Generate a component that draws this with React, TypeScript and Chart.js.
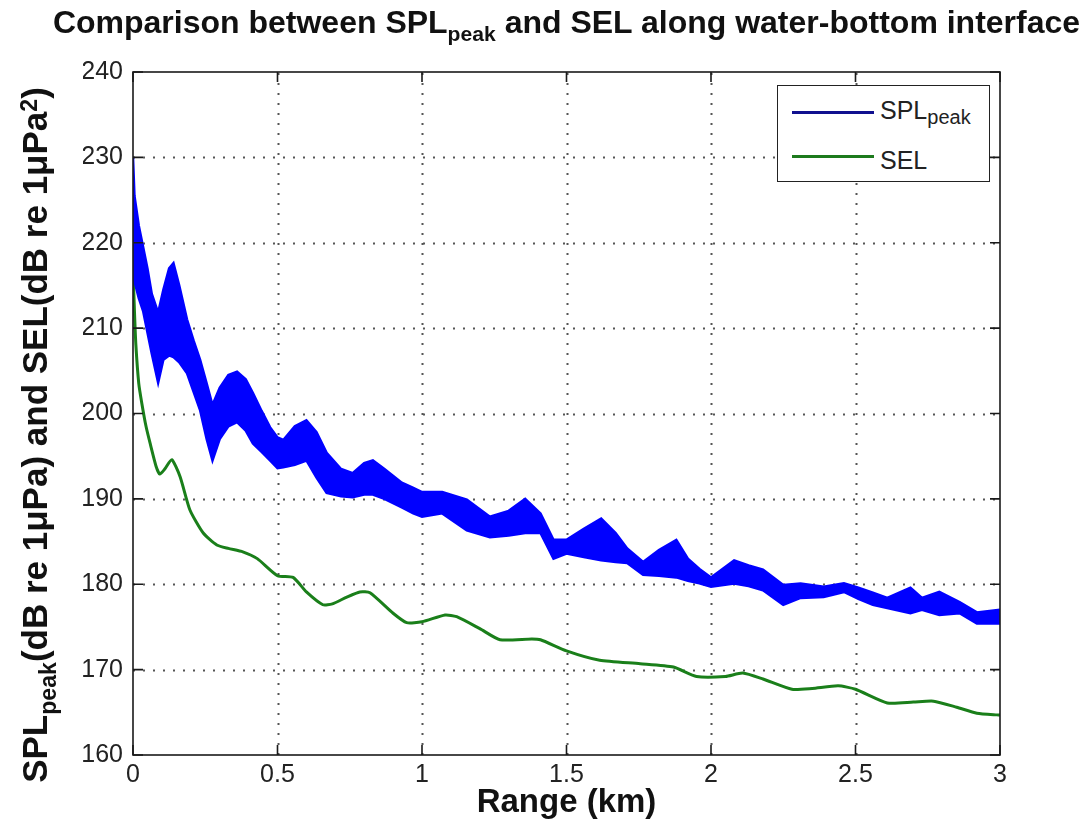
import React, { useEffect, useRef } from "react";
import { Chart, registerables } from "chart.js";

Chart.register(...registerables);

// SPL_peak band (rapidly oscillating signal shown as envelope)
const bandX = [
  0.0, 0.005, 0.02, 0.035, 0.05, 0.065, 0.087, 0.105, 0.125, 0.14, 0.16, 0.187, 0.21, 0.232, 0.255,
  0.275, 0.3, 0.33, 0.36, 0.39, 0.415, 0.445, 0.474, 0.5, 0.52, 0.56, 0.6, 0.635, 0.67, 0.72, 0.76,
  0.8, 0.83, 0.87, 0.93, 0.97, 1.0, 1.07, 1.155, 1.235, 1.3, 1.357, 1.41, 1.455, 1.5, 1.56, 1.62,
  1.67, 1.71, 1.765, 1.82, 1.88, 1.92, 1.96, 2.0, 2.08, 2.13, 2.18, 2.25, 2.31, 2.39, 2.46, 2.51,
  2.56, 2.61, 2.69, 2.73, 2.79, 2.86, 2.92, 3.0,
];
const bandUpper = [
  230, 225.5, 222, 219.5, 217, 214, 211.8, 214.5, 217, 217.6, 215, 211, 208.5, 206.3, 203.5,
  201, 203, 204.5, 204.9, 204, 202.4, 200.3, 198.4, 197.2, 196.9, 198.5, 199.2, 197.8, 195.4, 193.5, 193,
  194.2, 194.5, 193.5, 191.9, 191.3, 190.8, 190.8, 189.9, 187.9, 188.6, 190, 188.3, 185.2, 185.2, 186.5, 187.7,
  186, 184.2, 182.6, 184, 185.2, 183, 181.8, 180.8, 182.8, 182.2, 181.7, 179.9, 180.1, 179.7, 180.1, 179.6,
  179, 178.4, 179.6, 178.4, 179.1, 177.9, 176.7, 177,
];
const bandLower = [
  217, 215.5, 213.5, 212, 209.5, 207, 203.6, 206.3, 206.8, 206.6, 206, 204.7, 202.5, 200.4, 197,
  194.5, 197, 198.5, 199, 198, 196.5, 195.5, 194.5, 193.6, 193.7, 194, 194.5, 192.5, 190.7, 190.3, 190.2,
  190.5, 190.5, 190, 189, 188.3, 187.9, 188.3, 186.3, 185.5, 185.7, 186, 186, 183, 183.6, 183.2, 182.8,
  182.6, 182.5, 181.1, 181, 180.8, 180.4, 180.1, 179.7, 180.1, 179.8, 179.3, 177.6, 178.4, 178.5, 179.1, 178.3,
  177.6, 177.2, 176.6, 177, 176.4, 176.6, 175.4, 175.4,
];

// SEL curve
const selX = [
  0.0, 0.005, 0.01, 0.02, 0.03, 0.045, 0.06, 0.08, 0.093, 0.11, 0.134, 0.163, 0.197, 0.243, 0.29,
  0.33, 0.38, 0.43, 0.5, 0.554, 0.6, 0.657, 0.69, 0.74, 0.785, 0.82, 0.9, 0.947, 1.0, 1.08, 1.12,
  1.2, 1.27, 1.38, 1.41, 1.5, 1.615, 1.755, 1.87, 1.95, 2.05, 2.11, 2.18, 2.28, 2.35, 2.44, 2.5,
  2.61, 2.7, 2.77, 2.85, 2.92, 2.99, 3.0,
];
const selY = [
  217, 212, 208, 203.5, 201.3, 198.5, 196.4, 193.8, 192.9, 193.5, 194.6, 192.6, 188.7, 186, 184.6,
  184.2, 183.8, 183, 181, 180.8, 179.1, 177.6, 177.7, 178.5, 179.1, 179, 176.6, 175.5, 175.6, 176.4, 176.2,
  174.8, 173.5, 173.6, 173.5, 172.2, 171.1, 170.7, 170.3, 169.2, 169.2, 169.6, 168.9, 167.7, 167.8, 168.1, 167.7,
  166.1, 166.2, 166.3, 165.6, 164.9, 164.7, 164.7,
];

const xMin = 0;
const xMax = 3;
const xStep = 0.5;
const yMin = 160;
const yMax = 240;
const yStep = 10;

const FONT = "'Liberation Sans', Arial, Helvetica, sans-serif";

const framePlugin = {
  id: "matlabFrame",
  beforeDatasetsDraw(chart: any) {
    const { ctx, chartArea: a, scales } = chart;
    ctx.save();
    ctx.strokeStyle = "#555";
    ctx.lineWidth = 2;
    ctx.setLineDash([2, 8]);
    scales.x.ticks.forEach((t: any) => {
      if (t.value <= xMin || t.value >= xMax) return;
      const px = Math.round(scales.x.getPixelForValue(t.value)) + 0.5;
      ctx.beginPath();
      ctx.moveTo(px, a.bottom);
      ctx.lineTo(px, a.top);
      ctx.stroke();
    });
    scales.y.ticks.forEach((t: any) => {
      if (t.value <= yMin || t.value >= yMax) return;
      const py = Math.round(scales.y.getPixelForValue(t.value)) + 0.5;
      ctx.beginPath();
      ctx.moveTo(a.left, py);
      ctx.lineTo(a.right, py);
      ctx.stroke();
    });
    ctx.restore();
  },
  afterDatasetsDraw(chart: any) {
    const { ctx, chartArea: a, scales } = chart;
    ctx.save();
    ctx.setLineDash([]);
    ctx.strokeStyle = "#1a1a1a";
    ctx.lineWidth = 1.6;
    ctx.strokeRect(a.left, a.top, a.right - a.left, a.bottom - a.top);
    const L = 10;
    ctx.beginPath();
    scales.x.ticks.forEach((t: any) => {
      const px = scales.x.getPixelForValue(t.value);
      ctx.moveTo(px, a.bottom);
      ctx.lineTo(px, a.bottom - L);
      ctx.moveTo(px, a.top);
      ctx.lineTo(px, a.top + L);
    });
    scales.y.ticks.forEach((t: any) => {
      const py = scales.y.getPixelForValue(t.value);
      ctx.moveTo(a.left, py);
      ctx.lineTo(a.left + L, py);
      ctx.moveTo(a.right, py);
      ctx.lineTo(a.right - L, py);
    });
    ctx.stroke();
    ctx.restore();
  },
};

export default function App() {
  const ref = useRef<HTMLCanvasElement | null>(null);

  useEffect(() => {
    if (!ref.current) return;
    const upper = bandX.map((x, i) => ({ x, y: bandUpper[i] }));
    const lower = bandX.map((x, i) => ({ x, y: bandLower[i] }));
    const sel = selX.map((x, i) => ({ x, y: selY[i] }));
    const chart = new Chart(ref.current, {
      type: "line",
      data: {
        datasets: [
          {
            label: "SPL upper",
            data: upper,
            borderColor: "#0000ff",
            borderWidth: 2.5,
            pointRadius: 0,
            fill: false,
            tension: 0,
          },
          {
            label: "SPL lower",
            data: lower,
            borderColor: "#0000ff",
            backgroundColor: "#0000ff",
            borderWidth: 2.5,
            pointRadius: 0,
            fill: "-1",
            tension: 0,
          },
          {
            label: "SEL",
            data: sel,
            borderColor: "#1a7f1a",
            borderWidth: 3,
            pointRadius: 0,
            fill: false,
            tension: 0.2,
          },
        ],
      },
      options: {
        responsive: false,
        animation: false,
        events: [],
        layout: { padding: { left: 83, top: 72, right: 88, bottom: 48 } },
        plugins: {
          legend: { display: false },
          title: { display: false },
          tooltip: { enabled: false },
        },
        scales: {
          x: {
            type: "linear",
            min: xMin,
            max: xMax,
            ticks: {
              stepSize: xStep,
              color: "#222",
              font: { family: FONT, size: 25 },
              padding: 5,
              callback: (v: any) => String(Number(v)),
            },
            grid: { display: false, drawTicks: false },
            border: { display: false },
            afterFit: (s: any) => {
              s.height = 30;
            },
          },
          y: {
            type: "linear",
            min: yMin,
            max: yMax,
            ticks: {
              stepSize: yStep,
              color: "#222",
              font: { family: FONT, size: 25 },
              padding: 10,
              callback: (v: any) => String(Number(v)),
            },
            grid: { display: false, drawTicks: false },
            border: { display: false },
            afterFit: (s: any) => {
              s.width = 50;
            },
          },
        },
      },
      plugins: [framePlugin],
    });
    return () => chart.destroy();
  }, []);

  const subStyle: React.CSSProperties = { fontSize: "0.66em", position: "relative", top: "0.4em", verticalAlign: "baseline" };
  const supStyle: React.CSSProperties = { fontSize: "0.66em", position: "relative", top: "-0.45em", verticalAlign: "baseline" };

  return (
    <div style={{ position: "fixed", left: 0, top: 0, width: 1088, height: 833, background: "#fff", fontFamily: FONT, color: "#111" }}>
      <canvas ref={ref} width={1088} height={833} style={{ display: "block" }} />
      <div
        style={{
          position: "absolute", left: 0, width: 1133, top: 6, textAlign: "center",
          fontSize: 32, lineHeight: "32px", fontWeight: "bold", whiteSpace: "nowrap",
        }}
      >
        Comparison between SPL<span style={subStyle}>peak</span> and SEL along water-bottom interface
      </div>
      <div
        style={{
          position: "absolute", left: 133, width: 867, top: 785, textAlign: "center",
          fontSize: 33, lineHeight: "32px", fontWeight: "bold", whiteSpace: "nowrap",
        }}
      >
        Range (km)
      </div>
      <div
        style={{
          position: "absolute", left: 35 - 450, top: 435 - 18, width: 900, height: 36,
          textAlign: "center", fontSize: 35, lineHeight: "36px", fontWeight: "bold", whiteSpace: "nowrap",
          transform: "rotate(-90deg)", transformOrigin: "50% 50%",
        }}
      >
        SPL<span style={subStyle}>peak</span>(dB re 1μPa) and SEL(dB re 1μPa<span style={supStyle}>2</span>)
      </div>
      <div
        style={{
          position: "absolute", left: 777, top: 85, width: 211, height: 95,
          border: "1.5px solid #222", background: "#fff",
        }}
      />
      <div style={{ position: "absolute", left: 792, top: 111, width: 82, height: 3, background: "#10108f" }} />
      <div style={{ position: "absolute", left: 792, top: 155, width: 82, height: 3, background: "#1d7a1d" }} />
      <div style={{ position: "absolute", left: 880, top: 98, fontSize: 25, lineHeight: "25px", whiteSpace: "nowrap", color: "#222" }}>
        SPL<span style={{ fontSize: 20, position: "relative", top: 5 }}>peak</span>
      </div>
      <div style={{ position: "absolute", left: 880, top: 148, fontSize: 25, lineHeight: "25px", whiteSpace: "nowrap", color: "#222" }}>
        SEL
      </div>
    </div>
  );
}
